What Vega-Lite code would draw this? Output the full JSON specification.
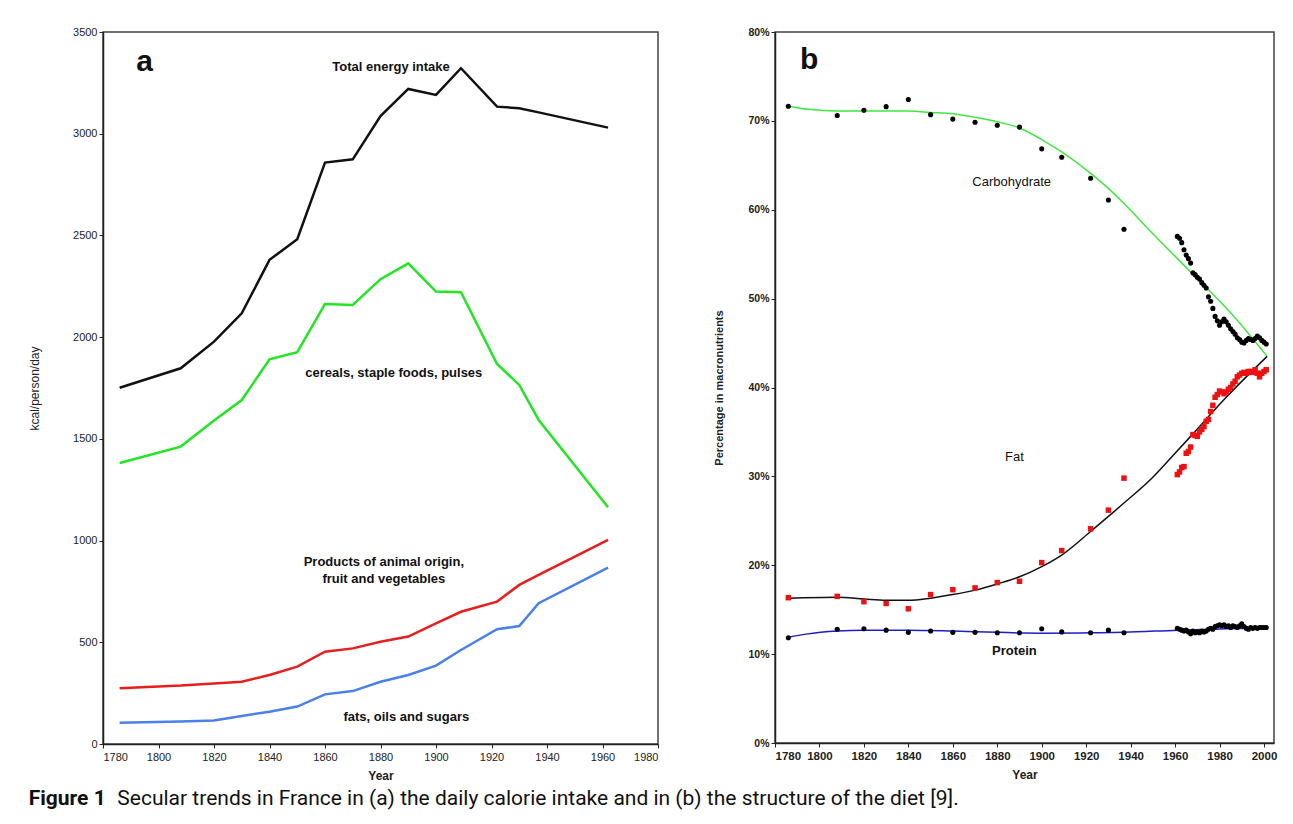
{
  "$schema": "https://vega.github.io/schema/vega-lite/v6.json",
  "background": "white",
  "padding": {"left": 27, "top": 25, "right": 10, "bottom": 5},
  "bounds": "flush",
  "spacing": 117,
  "resolve": {"scale": {"color": "independent"}},
  "title": {
    "text": "Figure 1",
    "subtitle": "\u200d\u00a0\u00a0\u00a0\u00a0\u00a0\u00a0\u00a0\u00a0\u00a0\u00a0\u00a0\u00a0\u00a0\u00a0\u00a0\u00a0\u00a0Secular trends in France in (a) the daily calorie intake and in (b) the structure of the diet [9].",
    "orient": "bottom",
    "anchor": "start",
    "frame": "bounds",
    "offset": 6,
    "dx": 1,
    "font": "Roboto",
    "fontSize": 21,
    "fontWeight": "bold",
    "color": "#111",
    "subtitleFont": "Roboto",
    "subtitleFontSize": 21,
    "subtitleFontWeight": "normal",
    "subtitleColor": "#111",
    "subtitlePadding": -21
  },
  "config": {
    "view": {"stroke": "#444", "strokeWidth": 1.5},
    "axis": {
      "domainColor": "#222", "domainWidth": 1.5, "tickColor": "#222", "tickSize": 4,
      "grid": false, "labelColor": "#222", "titleColor": "#222",
      "labelFont": "Liberation Sans", "titleFont": "Liberation Sans"
    },
    "text": {"font": "Liberation Sans"}
  },
  "datasets": {
    "energy": [
      {"year": 1786, "series": "Total energy intake", "value": 1751},
      {"year": 1808, "series": "Total energy intake", "value": 1847},
      {"year": 1820, "series": "Total energy intake", "value": 1978},
      {"year": 1830, "series": "Total energy intake", "value": 2117},
      {"year": 1840, "series": "Total energy intake", "value": 2380},
      {"year": 1850, "series": "Total energy intake", "value": 2481},
      {"year": 1860, "series": "Total energy intake", "value": 2858},
      {"year": 1870, "series": "Total energy intake", "value": 2874},
      {"year": 1880, "series": "Total energy intake", "value": 3087},
      {"year": 1890, "series": "Total energy intake", "value": 3220},
      {"year": 1900, "series": "Total energy intake", "value": 3191},
      {"year": 1909, "series": "Total energy intake", "value": 3322},
      {"year": 1922, "series": "Total energy intake", "value": 3133},
      {"year": 1930, "series": "Total energy intake", "value": 3125},
      {"year": 1937, "series": "Total energy intake", "value": 3105},
      {"year": 1962, "series": "Total energy intake", "value": 3030},
      {"year": 1786, "series": "cereals", "value": 1381},
      {"year": 1808, "series": "cereals", "value": 1462},
      {"year": 1820, "series": "cereals", "value": 1590},
      {"year": 1830, "series": "cereals", "value": 1691},
      {"year": 1840, "series": "cereals", "value": 1891},
      {"year": 1850, "series": "cereals", "value": 1926},
      {"year": 1860, "series": "cereals", "value": 2163},
      {"year": 1870, "series": "cereals", "value": 2158},
      {"year": 1880, "series": "cereals", "value": 2285},
      {"year": 1890, "series": "cereals", "value": 2363},
      {"year": 1900, "series": "cereals", "value": 2224},
      {"year": 1909, "series": "cereals", "value": 2221},
      {"year": 1922, "series": "cereals", "value": 1868},
      {"year": 1930, "series": "cereals", "value": 1765},
      {"year": 1937, "series": "cereals", "value": 1593},
      {"year": 1962, "series": "cereals", "value": 1164},
      {"year": 1786, "series": "animal", "value": 274},
      {"year": 1808, "series": "animal", "value": 287},
      {"year": 1820, "series": "animal", "value": 298},
      {"year": 1830, "series": "animal", "value": 306},
      {"year": 1840, "series": "animal", "value": 339},
      {"year": 1850, "series": "animal", "value": 380},
      {"year": 1860, "series": "animal", "value": 454},
      {"year": 1870, "series": "animal", "value": 470},
      {"year": 1880, "series": "animal", "value": 503},
      {"year": 1890, "series": "animal", "value": 528},
      {"year": 1900, "series": "animal", "value": 593},
      {"year": 1909, "series": "animal", "value": 650},
      {"year": 1922, "series": "animal", "value": 700},
      {"year": 1930, "series": "animal", "value": 782},
      {"year": 1937, "series": "animal", "value": 831},
      {"year": 1962, "series": "animal", "value": 1003},
      {"year": 1786, "series": "fats", "value": 105},
      {"year": 1808, "series": "fats", "value": 110},
      {"year": 1820, "series": "fats", "value": 115},
      {"year": 1830, "series": "fats", "value": 138},
      {"year": 1840, "series": "fats", "value": 159},
      {"year": 1850, "series": "fats", "value": 184},
      {"year": 1860, "series": "fats", "value": 244},
      {"year": 1870, "series": "fats", "value": 260},
      {"year": 1880, "series": "fats", "value": 306},
      {"year": 1890, "series": "fats", "value": 339},
      {"year": 1900, "series": "fats", "value": 385},
      {"year": 1909, "series": "fats", "value": 462},
      {"year": 1922, "series": "fats", "value": 564},
      {"year": 1930, "series": "fats", "value": 580},
      {"year": 1937, "series": "fats", "value": 692},
      {"year": 1962, "series": "fats", "value": 867}
    ],
    "labelsA": [
      {"label": "Total energy intake", "year": 1883.8, "value": 3328},
      {"label": "cereals, staple foods, pulses", "year": 1884.8, "value": 1826},
      {"label": "Products of animal origin,", "year": 1881.2, "value": 893},
      {"label": "fruit and vegetables", "year": 1881.2, "value": 811},
      {"label": "fats, oils and sugars", "year": 1889.3, "value": 134}
    ],
    "pts": [
      {"year": 1786, "nutrient": "Carbohydrate", "pct": 71.65},
      {"year": 1808, "nutrient": "Carbohydrate", "pct": 70.6},
      {"year": 1820, "nutrient": "Carbohydrate", "pct": 71.2},
      {"year": 1830, "nutrient": "Carbohydrate", "pct": 71.6},
      {"year": 1840, "nutrient": "Carbohydrate", "pct": 72.4},
      {"year": 1850, "nutrient": "Carbohydrate", "pct": 70.7},
      {"year": 1860, "nutrient": "Carbohydrate", "pct": 70.2},
      {"year": 1870, "nutrient": "Carbohydrate", "pct": 69.85},
      {"year": 1880, "nutrient": "Carbohydrate", "pct": 69.5},
      {"year": 1890, "nutrient": "Carbohydrate", "pct": 69.3},
      {"year": 1900, "nutrient": "Carbohydrate", "pct": 66.85},
      {"year": 1909, "nutrient": "Carbohydrate", "pct": 65.9},
      {"year": 1922, "nutrient": "Carbohydrate", "pct": 63.55},
      {"year": 1930, "nutrient": "Carbohydrate", "pct": 61.1},
      {"year": 1937, "nutrient": "Carbohydrate", "pct": 57.8},
      {"year": 1961, "nutrient": "Carbohydrate", "pct": 57.0},
      {"year": 1962, "nutrient": "Carbohydrate", "pct": 56.8},
      {"year": 1963, "nutrient": "Carbohydrate", "pct": 56.3},
      {"year": 1964, "nutrient": "Carbohydrate", "pct": 55.5},
      {"year": 1965, "nutrient": "Carbohydrate", "pct": 54.9},
      {"year": 1966, "nutrient": "Carbohydrate", "pct": 54.5},
      {"year": 1967, "nutrient": "Carbohydrate", "pct": 54.0},
      {"year": 1968, "nutrient": "Carbohydrate", "pct": 52.9},
      {"year": 1969, "nutrient": "Carbohydrate", "pct": 52.7},
      {"year": 1970, "nutrient": "Carbohydrate", "pct": 52.4},
      {"year": 1971, "nutrient": "Carbohydrate", "pct": 52.2},
      {"year": 1972, "nutrient": "Carbohydrate", "pct": 51.8},
      {"year": 1973, "nutrient": "Carbohydrate", "pct": 51.5},
      {"year": 1974, "nutrient": "Carbohydrate", "pct": 51.2},
      {"year": 1975, "nutrient": "Carbohydrate", "pct": 50.2},
      {"year": 1976, "nutrient": "Carbohydrate", "pct": 49.7},
      {"year": 1977, "nutrient": "Carbohydrate", "pct": 48.9},
      {"year": 1978, "nutrient": "Carbohydrate", "pct": 48.0},
      {"year": 1979, "nutrient": "Carbohydrate", "pct": 47.5},
      {"year": 1980, "nutrient": "Carbohydrate", "pct": 47.0},
      {"year": 1981, "nutrient": "Carbohydrate", "pct": 47.4},
      {"year": 1982, "nutrient": "Carbohydrate", "pct": 47.7},
      {"year": 1983, "nutrient": "Carbohydrate", "pct": 47.4},
      {"year": 1984, "nutrient": "Carbohydrate", "pct": 47.0},
      {"year": 1985, "nutrient": "Carbohydrate", "pct": 46.6},
      {"year": 1986, "nutrient": "Carbohydrate", "pct": 46.3},
      {"year": 1987, "nutrient": "Carbohydrate", "pct": 46.0},
      {"year": 1988, "nutrient": "Carbohydrate", "pct": 45.6},
      {"year": 1989, "nutrient": "Carbohydrate", "pct": 45.4},
      {"year": 1990, "nutrient": "Carbohydrate", "pct": 45.1},
      {"year": 1991, "nutrient": "Carbohydrate", "pct": 45.0},
      {"year": 1992, "nutrient": "Carbohydrate", "pct": 45.3},
      {"year": 1993, "nutrient": "Carbohydrate", "pct": 45.5},
      {"year": 1994, "nutrient": "Carbohydrate", "pct": 45.4},
      {"year": 1995, "nutrient": "Carbohydrate", "pct": 45.3},
      {"year": 1996, "nutrient": "Carbohydrate", "pct": 45.5},
      {"year": 1997, "nutrient": "Carbohydrate", "pct": 45.8},
      {"year": 1998, "nutrient": "Carbohydrate", "pct": 45.6},
      {"year": 1999, "nutrient": "Carbohydrate", "pct": 45.3},
      {"year": 2000, "nutrient": "Carbohydrate", "pct": 45.1},
      {"year": 2001, "nutrient": "Carbohydrate", "pct": 44.9},
      {"year": 1786, "nutrient": "Fat", "pct": 16.35},
      {"year": 1808, "nutrient": "Fat", "pct": 16.5},
      {"year": 1820, "nutrient": "Fat", "pct": 15.9},
      {"year": 1830, "nutrient": "Fat", "pct": 15.7},
      {"year": 1840, "nutrient": "Fat", "pct": 15.1},
      {"year": 1850, "nutrient": "Fat", "pct": 16.7},
      {"year": 1860, "nutrient": "Fat", "pct": 17.25},
      {"year": 1870, "nutrient": "Fat", "pct": 17.45},
      {"year": 1880, "nutrient": "Fat", "pct": 18.05},
      {"year": 1890, "nutrient": "Fat", "pct": 18.2},
      {"year": 1900, "nutrient": "Fat", "pct": 20.3},
      {"year": 1909, "nutrient": "Fat", "pct": 21.65},
      {"year": 1922, "nutrient": "Fat", "pct": 24.1},
      {"year": 1930, "nutrient": "Fat", "pct": 26.2},
      {"year": 1937, "nutrient": "Fat", "pct": 29.8},
      {"year": 1961, "nutrient": "Fat", "pct": 30.2},
      {"year": 1962, "nutrient": "Fat", "pct": 30.5},
      {"year": 1963, "nutrient": "Fat", "pct": 31.0},
      {"year": 1964, "nutrient": "Fat", "pct": 31.1},
      {"year": 1965, "nutrient": "Fat", "pct": 32.6},
      {"year": 1966, "nutrient": "Fat", "pct": 32.8},
      {"year": 1967, "nutrient": "Fat", "pct": 33.3},
      {"year": 1968, "nutrient": "Fat", "pct": 34.7},
      {"year": 1969, "nutrient": "Fat", "pct": 34.6},
      {"year": 1970, "nutrient": "Fat", "pct": 34.5},
      {"year": 1971, "nutrient": "Fat", "pct": 35.0},
      {"year": 1972, "nutrient": "Fat", "pct": 35.3},
      {"year": 1973, "nutrient": "Fat", "pct": 35.6},
      {"year": 1974, "nutrient": "Fat", "pct": 36.2},
      {"year": 1975, "nutrient": "Fat", "pct": 36.4},
      {"year": 1976, "nutrient": "Fat", "pct": 37.3},
      {"year": 1977, "nutrient": "Fat", "pct": 38.0},
      {"year": 1978, "nutrient": "Fat", "pct": 38.9},
      {"year": 1979, "nutrient": "Fat", "pct": 39.2},
      {"year": 1980, "nutrient": "Fat", "pct": 39.6},
      {"year": 1981, "nutrient": "Fat", "pct": 39.5},
      {"year": 1982, "nutrient": "Fat", "pct": 39.3},
      {"year": 1983, "nutrient": "Fat", "pct": 39.5},
      {"year": 1984, "nutrient": "Fat", "pct": 39.8},
      {"year": 1985, "nutrient": "Fat", "pct": 40.0},
      {"year": 1986, "nutrient": "Fat", "pct": 40.4},
      {"year": 1987, "nutrient": "Fat", "pct": 40.7},
      {"year": 1988, "nutrient": "Fat", "pct": 41.2},
      {"year": 1989, "nutrient": "Fat", "pct": 41.4},
      {"year": 1990, "nutrient": "Fat", "pct": 41.6},
      {"year": 1991, "nutrient": "Fat", "pct": 41.7},
      {"year": 1992, "nutrient": "Fat", "pct": 41.6},
      {"year": 1993, "nutrient": "Fat", "pct": 41.8},
      {"year": 1994, "nutrient": "Fat", "pct": 41.8},
      {"year": 1995, "nutrient": "Fat", "pct": 41.7},
      {"year": 1996, "nutrient": "Fat", "pct": 42.0},
      {"year": 1997, "nutrient": "Fat", "pct": 41.6},
      {"year": 1998, "nutrient": "Fat", "pct": 41.2},
      {"year": 1999, "nutrient": "Fat", "pct": 41.6},
      {"year": 2000, "nutrient": "Fat", "pct": 41.8},
      {"year": 2001, "nutrient": "Fat", "pct": 42.0},
      {"year": 1786, "nutrient": "Protein", "pct": 11.85},
      {"year": 1808, "nutrient": "Protein", "pct": 12.8},
      {"year": 1820, "nutrient": "Protein", "pct": 12.85},
      {"year": 1830, "nutrient": "Protein", "pct": 12.7},
      {"year": 1840, "nutrient": "Protein", "pct": 12.45},
      {"year": 1850, "nutrient": "Protein", "pct": 12.6},
      {"year": 1860, "nutrient": "Protein", "pct": 12.45},
      {"year": 1870, "nutrient": "Protein", "pct": 12.45},
      {"year": 1880, "nutrient": "Protein", "pct": 12.4},
      {"year": 1890, "nutrient": "Protein", "pct": 12.4},
      {"year": 1900, "nutrient": "Protein", "pct": 12.85},
      {"year": 1909, "nutrient": "Protein", "pct": 12.5},
      {"year": 1922, "nutrient": "Protein", "pct": 12.4},
      {"year": 1930, "nutrient": "Protein", "pct": 12.7},
      {"year": 1937, "nutrient": "Protein", "pct": 12.4},
      {"year": 1961, "nutrient": "Protein", "pct": 12.9},
      {"year": 1962, "nutrient": "Protein", "pct": 12.8},
      {"year": 1963, "nutrient": "Protein", "pct": 12.7},
      {"year": 1964, "nutrient": "Protein", "pct": 12.6},
      {"year": 1965, "nutrient": "Protein", "pct": 12.7},
      {"year": 1966, "nutrient": "Protein", "pct": 12.5},
      {"year": 1967, "nutrient": "Protein", "pct": 12.3},
      {"year": 1968, "nutrient": "Protein", "pct": 12.6},
      {"year": 1969, "nutrient": "Protein", "pct": 12.4},
      {"year": 1970, "nutrient": "Protein", "pct": 12.5},
      {"year": 1971, "nutrient": "Protein", "pct": 12.4},
      {"year": 1972, "nutrient": "Protein", "pct": 12.6},
      {"year": 1973, "nutrient": "Protein", "pct": 12.5},
      {"year": 1974, "nutrient": "Protein", "pct": 12.6},
      {"year": 1975, "nutrient": "Protein", "pct": 12.8},
      {"year": 1976, "nutrient": "Protein", "pct": 12.9},
      {"year": 1977, "nutrient": "Protein", "pct": 12.8},
      {"year": 1978, "nutrient": "Protein", "pct": 13.1},
      {"year": 1979, "nutrient": "Protein", "pct": 13.2},
      {"year": 1980, "nutrient": "Protein", "pct": 13.3},
      {"year": 1981, "nutrient": "Protein", "pct": 13.2},
      {"year": 1982, "nutrient": "Protein", "pct": 13.3},
      {"year": 1983, "nutrient": "Protein", "pct": 13.1},
      {"year": 1984, "nutrient": "Protein", "pct": 13.2},
      {"year": 1985, "nutrient": "Protein", "pct": 13.0},
      {"year": 1986, "nutrient": "Protein", "pct": 13.2},
      {"year": 1987, "nutrient": "Protein", "pct": 13.1},
      {"year": 1988, "nutrient": "Protein", "pct": 13.0},
      {"year": 1989, "nutrient": "Protein", "pct": 13.2},
      {"year": 1990, "nutrient": "Protein", "pct": 13.4},
      {"year": 1991, "nutrient": "Protein", "pct": 13.1},
      {"year": 1992, "nutrient": "Protein", "pct": 12.9},
      {"year": 1993, "nutrient": "Protein", "pct": 12.8},
      {"year": 1994, "nutrient": "Protein", "pct": 13.0},
      {"year": 1995, "nutrient": "Protein", "pct": 12.9},
      {"year": 1996, "nutrient": "Protein", "pct": 13.0},
      {"year": 1997, "nutrient": "Protein", "pct": 12.9},
      {"year": 1998, "nutrient": "Protein", "pct": 13.0},
      {"year": 1999, "nutrient": "Protein", "pct": 13.0},
      {"year": 2000, "nutrient": "Protein", "pct": 13.0},
      {"year": 2001, "nutrient": "Protein", "pct": 13.0}
    ],
    "curves": [
      {"year": 1786, "nutrient": "Carbohydrate", "pct": 71.65},
      {"year": 1795, "nutrient": "Carbohydrate", "pct": 71.3},
      {"year": 1808, "nutrient": "Carbohydrate", "pct": 71.1},
      {"year": 1820, "nutrient": "Carbohydrate", "pct": 71.1},
      {"year": 1840, "nutrient": "Carbohydrate", "pct": 71.1},
      {"year": 1850, "nutrient": "Carbohydrate", "pct": 70.95},
      {"year": 1860, "nutrient": "Carbohydrate", "pct": 70.8},
      {"year": 1870, "nutrient": "Carbohydrate", "pct": 70.4},
      {"year": 1880, "nutrient": "Carbohydrate", "pct": 69.9},
      {"year": 1890, "nutrient": "Carbohydrate", "pct": 69.2},
      {"year": 1900, "nutrient": "Carbohydrate", "pct": 67.9},
      {"year": 1909, "nutrient": "Carbohydrate", "pct": 66.5},
      {"year": 1922, "nutrient": "Carbohydrate", "pct": 64.1},
      {"year": 1930, "nutrient": "Carbohydrate", "pct": 62.4},
      {"year": 1937, "nutrient": "Carbohydrate", "pct": 60.7},
      {"year": 1950, "nutrient": "Carbohydrate", "pct": 57.3},
      {"year": 1967, "nutrient": "Carbohydrate", "pct": 53.0},
      {"year": 1985, "nutrient": "Carbohydrate", "pct": 48.4},
      {"year": 2001.4, "nutrient": "Carbohydrate", "pct": 43.5},
      {"year": 1786, "nutrient": "Fat", "pct": 16.3},
      {"year": 1808, "nutrient": "Fat", "pct": 16.4},
      {"year": 1820, "nutrient": "Fat", "pct": 16.2},
      {"year": 1830, "nutrient": "Fat", "pct": 16.05},
      {"year": 1840, "nutrient": "Fat", "pct": 16.05},
      {"year": 1850, "nutrient": "Fat", "pct": 16.3},
      {"year": 1860, "nutrient": "Fat", "pct": 16.7},
      {"year": 1870, "nutrient": "Fat", "pct": 17.2},
      {"year": 1880, "nutrient": "Fat", "pct": 17.9},
      {"year": 1890, "nutrient": "Fat", "pct": 18.7},
      {"year": 1900, "nutrient": "Fat", "pct": 19.85},
      {"year": 1909, "nutrient": "Fat", "pct": 21.15},
      {"year": 1922, "nutrient": "Fat", "pct": 23.8},
      {"year": 1930, "nutrient": "Fat", "pct": 25.5},
      {"year": 1937, "nutrient": "Fat", "pct": 27.0},
      {"year": 1950, "nutrient": "Fat", "pct": 29.9},
      {"year": 1960, "nutrient": "Fat", "pct": 32.6},
      {"year": 1967, "nutrient": "Fat", "pct": 34.5},
      {"year": 1983, "nutrient": "Fat", "pct": 38.9},
      {"year": 2001.4, "nutrient": "Fat", "pct": 43.5},
      {"year": 1786, "nutrient": "Protein", "pct": 11.9},
      {"year": 1794, "nutrient": "Protein", "pct": 12.25},
      {"year": 1808, "nutrient": "Protein", "pct": 12.6},
      {"year": 1820, "nutrient": "Protein", "pct": 12.7},
      {"year": 1840, "nutrient": "Protein", "pct": 12.7},
      {"year": 1860, "nutrient": "Protein", "pct": 12.6},
      {"year": 1880, "nutrient": "Protein", "pct": 12.45},
      {"year": 1900, "nutrient": "Protein", "pct": 12.35},
      {"year": 1922, "nutrient": "Protein", "pct": 12.4},
      {"year": 1937, "nutrient": "Protein", "pct": 12.45},
      {"year": 1961, "nutrient": "Protein", "pct": 12.7},
      {"year": 2001.4, "nutrient": "Protein", "pct": 12.95}
    ],
    "labelsB": [
      {"label": "Carbohydrate", "year": 1886.5, "pct": 63.1},
      {"label": "Fat", "year": 1887.7, "pct": 32.2}
    ],
    "labelsB2": [
      {"label": "Protein", "year": 1887.7, "pct": 10.4}
    ],
    "panelA": [{"label": "a", "year": 1795, "value": 3353}],
    "panelB": [{"label": "b", "year": 1795.4, "pct": 76.85}]
  },
  "hconcat": [
    {
      "width": 555,
      "height": 712,
      "layer": [
        {
          "data": {"name": "energy"},
          "mark": {"type": "line", "strokeWidth": 2.5},
          "encoding": {
            "x": {
              "field": "year", "type": "quantitative",
              "scale": {"domain": [1780, 1980], "nice": false, "zero": false},
              "axis": {
                "values": [1780, 1800, 1820, 1840, 1860, 1880, 1900, 1920, 1940, 1960, 1980],
                "format": "d", "title": "Year", "labelFontSize": 11, "labelPadding": 3,
                "titleFontSize": 12, "titleFontWeight": "bold", "titlePadding": 8
              }
            },
            "y": {
              "field": "value", "type": "quantitative",
              "scale": {"domain": [0, 3500], "nice": false},
              "axis": {
                "values": [0, 500, 1000, 1500, 2000, 2500, 3000, 3500],
                "format": "d",
                "title": "kcal/person/day", "labelFontSize": 11, "titleFontSize": 12,
                "titleFontWeight": "normal", "titlePadding": 31
              }
            },
            "color": {
              "field": "series", "type": "nominal",
              "scale": {"domain": ["Total energy intake", "cereals", "animal", "fats"], "range": ["#111111", "#22e622", "#e61e1e", "#4a80e8"]},
              "legend": null
            }
          }
        },
        {
          "data": {"name": "labelsA"},
          "mark": {"type": "text", "fontSize": 13, "fontWeight": "bold", "color": "#111", "align": "center", "baseline": "middle"},
          "encoding": {
            "x": {"field": "year", "type": "quantitative"},
            "y": {"field": "value", "type": "quantitative"},
            "text": {"field": "label"}
          }
        },
        {
          "data": {"name": "panelA"},
          "mark": {"type": "text", "fontSize": 30, "fontWeight": "bold", "color": "#111", "align": "center", "baseline": "middle"},
          "encoding": {
            "x": {"field": "year", "type": "quantitative"},
            "y": {"field": "value", "type": "quantitative"},
            "text": {"field": "label"}
          }
        }
      ]
    },
    {
      "width": 499,
      "height": 711,
      "layer": [
        {
          "data": {"name": "curves"},
          "mark": {"type": "line", "strokeWidth": 1.5, "interpolate": "monotone"},
          "encoding": {
            "x": {
              "field": "year", "type": "quantitative",
              "scale": {"domain": [1780, 2004.5], "nice": false, "zero": false},
              "axis": {
                "values": [1780, 1800, 1820, 1840, 1860, 1880, 1900, 1920, 1940, 1960, 1980, 2000],
                "format": "d", "title": "Year", "labelFontSize": 11.5, "labelFontWeight": "bold",
                "labelPadding": 3, "titleFontSize": 12, "titleFontWeight": "bold", "titlePadding": 8
              }
            },
            "y": {
              "field": "pct", "type": "quantitative",
              "scale": {"domain": [0, 80], "nice": false},
              "axis": {
                "values": [0, 10, 20, 30, 40, 50, 60, 70, 80],
                "labelExpr": "datum.value + '%'",
                "title": "Percentage in macronutrients", "labelFontSize": 10.5, "labelFontWeight": "bold",
                "titleFontSize": 11, "titleFontWeight": "bold", "titlePadding": 23
              }
            },
            "color": {
              "field": "nutrient", "type": "nominal",
              "scale": {"domain": ["Carbohydrate", "Fat", "Protein"], "range": ["#3ee83e", "#111111", "#1e1ec8"]},
              "legend": null
            }
          }
        },
        {
          "data": {"name": "pts"},
          "transform": [{"filter": "datum.nutrient !== 'Fat'"}],
          "mark": {"type": "circle", "size": 26, "color": "#000", "opacity": 1},
          "encoding": {
            "x": {"field": "year", "type": "quantitative"},
            "y": {"field": "pct", "type": "quantitative"}
          }
        },
        {
          "data": {"name": "pts"},
          "transform": [{"filter": "datum.nutrient === 'Fat'"}],
          "mark": {"type": "square", "size": 30, "color": "#ee1111", "opacity": 1},
          "encoding": {
            "x": {"field": "year", "type": "quantitative"},
            "y": {"field": "pct", "type": "quantitative"}
          }
        },
        {
          "data": {"name": "labelsB"},
          "mark": {"type": "text", "fontSize": 13, "fontWeight": "normal", "color": "#111", "align": "center", "baseline": "middle"},
          "encoding": {
            "x": {"field": "year", "type": "quantitative"},
            "y": {"field": "pct", "type": "quantitative"},
            "text": {"field": "label"}
          }
        },
        {
          "data": {"name": "labelsB2"},
          "mark": {"type": "text", "fontSize": 13, "fontWeight": "bold", "color": "#111", "align": "center", "baseline": "middle"},
          "encoding": {
            "x": {"field": "year", "type": "quantitative"},
            "y": {"field": "pct", "type": "quantitative"},
            "text": {"field": "label"}
          }
        },
        {
          "data": {"name": "panelB"},
          "mark": {"type": "text", "fontSize": 30, "fontWeight": "bold", "color": "#111", "align": "center", "baseline": "middle"},
          "encoding": {
            "x": {"field": "year", "type": "quantitative"},
            "y": {"field": "pct", "type": "quantitative"},
            "text": {"field": "label"}
          }
        }
      ]
    }
  ]
}
